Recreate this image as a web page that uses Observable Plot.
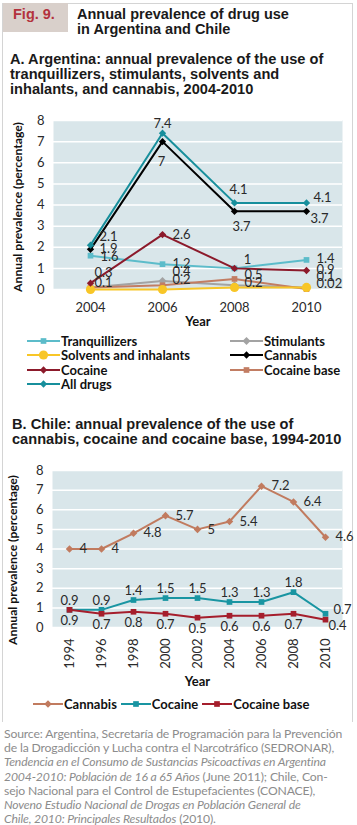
<!DOCTYPE html>
<html><head><meta charset="utf-8">
<script src="https://cdn.jsdelivr.net/npm/d3@7"></script>
<script src="https://cdn.jsdelivr.net/npm/@observablehq/plot@0.6"></script>
<style>
html,body{margin:0;padding:0;background:#fff;}
body{width:357px;height:825px;position:relative;overflow:hidden;font-family:Lato,"Open Sans",sans-serif;color:#222;}
.abs{position:absolute;}
#panel{left:2px;top:3px;width:349px;height:718px;border:1px solid #d4d4d4;border-bottom:none;}
#figbox{left:3px;top:3px;width:65px;height:29px;background:#d9d0cb;}
#figlab{left:13px;top:6px;font:bold 14.5px "Liberation Sans",Arial,sans-serif;color:#b3323d;}
#title{left:77px;top:7px;font:bold 14.5px/15px "Liberation Sans",Arial,sans-serif;color:#1a1a1a;}
.sec{font:bold 14.6px/14.8px "Liberation Sans",Arial,sans-serif;color:#1a1a1a;white-space:nowrap;}
.leg{font:bold 13px Lato,sans-serif;color:#111;white-space:nowrap;display:flex;align-items:center;height:14px;}
.leg svg{margin-right:1px;}
#source{left:4px;top:727px;font:12.2px/14.2px Lato,sans-serif;color:#8c8c8c;white-space:nowrap;letter-spacing:-0.15px;}
</style></head>
<body>
<div id="panel" class="abs"></div>
<div id="figbox" class="abs"></div>
<div id="figlab" class="abs">Fig. 9.</div>
<div id="title" class="abs">Annual prevalence of drug use<br>in Argentina and Chile</div>
<div class="abs sec" style="left:10px;top:52px;">A. Argentina: annual prevalence of the use of<br>tranquillizers, stimulants, solvents and<br>inhalants, and cannabis, 2004-2010</div>
<div id="chartA" class="abs" style="left:0;top:100px;"></div>
<div id="legendA"></div>
<div class="abs sec" style="left:12px;top:417px;">B. Chile: annual prevalence of the use of<br>cannabis, cocaine and cocaine base, 1994-2010</div>
<div id="chartB" class="abs" style="left:0;top:455px;"></div>
<div id="legendB"></div>
<div id="source" class="abs">Source: Argentina, Secretaría de Programación para la Prevención<br>de la Drogadicción y Lucha contra el Narcotráfico (SEDRONAR),<br><i>Tendencia en el Consumo de Sustancias Psicoactivas en Argentina</i><br><i>2004-2010: Población de 16 a 65 Años</i> (June 2011); Chile, Con-<br>sejo Nacional para el Control de Estupefacientes (CONACE),<br><i>Noveno Estudio Nacional de Drogas en Población General de</i><br><i>Chile, 2010: Principales Resultados</i> (2010).</div>
<script>
// ---------- DATA ----------
const yearsA = ["2004", "2006", "2008", "2010"];
const seriesNamesA = ["Tranquillizers", "Stimulants", "Solvents and inhalants", "Cannabis", "Cocaine", "Cocaine base", "All drugs"];
const tranquillizersA = [1.6, 1.2, 1, 1.4];
const stimulantsA = [0.1, 0.4, 0.2, 0.1];
const solventsA = [0, 0, 0.1, 0.1];
const cannabisA = [1.9, 7, 3.7, 3.7];
const cocaineA = [0.3, 2.6, 1, 0.9];
const cocaineBaseA = [0.1, 0.2, 0.5, 0.02];
const allDrugsA = [2.1, 7.4, 4.1, 4.1];
const yTicks = [0, 1, 2, 3, 4, 5, 6, 7, 8];

const yearsB = ["1994", "1996", "1998", "2000", "2002", "2004", "2006", "2008", "2010"];
const seriesNamesB = ["Cannabis", "Cocaine", "Cocaine base"];
const cannabisB = [4, 4, 4.8, 5.7, 5, 5.4, 7.2, 6.4, 4.6];
const cocaineB = [0.9, 0.9, 1.4, 1.5, 1.5, 1.3, 1.3, 1.8, 0.7];
const cocaineBaseB = [0.9, 0.7, 0.8, 0.7, 0.5, 0.6, 0.6, 0.7, 0.4];

const valuesA = {
  "Tranquillizers": tranquillizersA, "Stimulants": stimulantsA, "Solvents and inhalants": solventsA,
  "Cannabis": cannabisA, "Cocaine": cocaineA, "Cocaine base": cocaineBaseA, "All drugs": allDrugsA
};
const valuesB = {"Cannabis": cannabisB, "Cocaine": cocaineB, "Cocaine base": cocaineBaseB};

// ---------- STYLE ----------
const styleA = {
  "Tranquillizers": {color: "#5cbcca", symbol: "square", r: 3.2},
  "Stimulants": {color: "#a3a3a3", symbol: "diamond2", r: 3.6},
  "Solvents and inhalants": {color: "#f8c627", symbol: "circle", r: 4.6},
  "Cannabis": {color: "#000000", symbol: "diamond2", r: 3.3},
  "Cocaine": {color: "#8c1a2b", symbol: "diamond2", r: 3.3},
  "Cocaine base": {color: "#c27d63", symbol: "square", r: 3.2},
  "All drugs": {color: "#178f9c", symbol: "diamond2", r: 3.3}
};
const drawOrderA = ["Tranquillizers", "Stimulants", "Cocaine base", "Solvents and inhalants", "Cocaine", "Cannabis", "All drugs"];
const labelPosA = {
  "Tranquillizers": [[10, 1, "start"], [10, 0, "start"], [13, -9, "middle"], [10, -1, "start"]],
  "Stimulants": [[4, -5, "start"], [10, -9, "start"], [10, -2, "start"], [10, -11, "start"]],
  "Solvents and inhalants": [null, null, null, null],
  "Cannabis": [[9, -1, "start"], [-1, 20, "middle"], [7, 15, "middle"], [4, 7, "start"]],
  "Cocaine": [[4, -10, "start"], [10, 0, "start"], null, [10, -1, "start"]],
  "Cocaine base": [null, [10, -5, "start"], [10, -4, "start"], [10, -5, "start"]],
  "All drugs": [[9, -8, "start"], [0, -9, "middle"], [4, -13, "middle"], [7, -5, "start"]]
};
const styleB = {
  "Cannabis": {color: "#c17b5f", symbol: "diamond2", r: 3.4},
  "Cocaine": {color: "#1995a2", symbol: "square", r: 3.2},
  "Cocaine base": {color: "#a51e2c", symbol: "square", r: 3.2}
};
const labelPosB = {
  "Cannabis": yearsB.map(() => [10, 0, "start"]),
  "Cocaine": yearsB.map((y, i) => i === yearsB.length - 1 ? [8, -4, "start"] : [0, -9, "middle"]),
  "Cocaine base": yearsB.map((y, i) => i === yearsB.length - 1 ? [3, 6, "start"] : [0, 11, "middle"])
};

// ---------- BUILD ----------
function rowsFor(years, values, names, labelPos) {
  const rows = [];
  for (const s of names) values[s].forEach((v, i) => rows.push({series: s, year: years[i], value: v, lab: labelPos[s][i]}));
  return rows;
}
function seriesMarks(rows, order, style) {
  const marks = [];
  for (const s of order) {
    const d = rows.filter(r => r.series === s);
    marks.push(Plot.line(d, {x: "year", y: "value", stroke: style[s].color, strokeWidth: 2}));
    marks.push(Plot.dot(d, {x: "year", y: "value", fill: style[s].color, stroke: "none", symbol: style[s].symbol, r: style[s].r}));
  }
  return marks;
}
function labelMarks(rows) {
  const groups = d3.group(rows.filter(r => r.lab), r => r.lab.join("|"));
  return Array.from(groups, ([k, arr]) => {
    const [dx, dy, anchor] = arr[0].lab;
    return Plot.text(arr, {x: "year", y: "value", text: d => String(d.value), dx, dy, textAnchor: anchor, fill: "#2a2a2a", fontSize: 13});
  });
}
const baseStyle = {fontFamily: "Lato, sans-serif", fontSize: "13px", color: "#2a2a2a", background: "transparent", overflow: "visible"};

const rowsA = rowsFor(yearsA, valuesA, seriesNamesA, labelPosA);
const chartA = Plot.plot({
  width: 357, height: 230,
  marginTop: 20, marginBottom: 41, marginLeft: 53, marginRight: 15,
  style: baseStyle,
  x: {type: "point", domain: yearsA, padding: 0.5},
  y: {domain: [0, 8]},
  marks: [
    Plot.frame({fill: "#d9e6ea", stroke: "none"}),
    Plot.gridY(yTicks, {stroke: "#ffffff", strokeOpacity: 1, strokeWidth: 1.5}),
    Plot.axisY(yTicks, {tickSize: 0, tickPadding: 9, label: null, fontSize: 13}),
    Plot.axisX(yearsA, {tickSize: 0, tickPadding: 13, label: null, fontSize: 13}),
    Plot.text(["Year"], {frameAnchor: "bottom", dy: 32, textAnchor: "middle", lineAnchor: "middle", fontWeight: "bold", fontSize: 13, fill: "#111"}),
    Plot.text(["Annual prevalence (percentage)"], {frameAnchor: "left", dx: -35, dy: 2, rotate: -90, textAnchor: "middle", lineAnchor: "middle", fontWeight: "bold", fontSize: 12.2, fill: "#111"}),
    ...seriesMarks(rowsA, drawOrderA, styleA),
    ...labelMarks(rowsA)
  ]
});
document.getElementById("chartA").append(chartA);

const rowsB = rowsFor(yearsB, valuesB, seriesNamesB, labelPosB);
const chartB = Plot.plot({
  width: 357, height: 240,
  marginTop: 15, marginBottom: 68, marginLeft: 52, marginRight: 15,
  style: baseStyle,
  x: {type: "point", domain: yearsB, padding: 0.5},
  y: {domain: [0, 8]},
  marks: [
    Plot.frame({fill: "#d9e6ea", stroke: "none"}),
    Plot.gridY(yTicks, {stroke: "#ffffff", strokeOpacity: 1, strokeWidth: 1.5}),
    Plot.axisY(yTicks, {tickSize: 0, tickPadding: 9, label: null, fontSize: 13}),
    Plot.axisX(yearsB, {tickSize: 0, tickPadding: 11, tickRotate: -90, label: null, fontSize: 13}),
    Plot.text(["Year"], {frameAnchor: "bottom", dy: 54, textAnchor: "middle", lineAnchor: "middle", fontWeight: "bold", fontSize: 13, fill: "#111"}),
    Plot.text(["Annual prevalence (percentage)"], {frameAnchor: "left", dx: -39, dy: 11, rotate: -90, textAnchor: "middle", lineAnchor: "middle", fontWeight: "bold", fontSize: 12.2, fill: "#111"}),
    ...seriesMarks(rowsB, seriesNamesB, styleB),
    ...labelMarks(rowsB)
  ]
});
document.getElementById("chartB").append(chartB);

// ---------- LEGENDS ----------
function swatch(st, w) {
  const sym = st.symbol === "circle" ? d3.symbolCircle : st.symbol === "square" ? d3.symbolSquare : d3.symbolDiamond2;
  const path = d3.symbol(sym, Math.PI * st.r * st.r)();
  return `<svg width="${w}" height="14"><line x1="0" x2="${w}" y1="7" y2="7" stroke="${st.color}" stroke-width="2"/><path transform="translate(${w / 2},7)" d="${path}" fill="${st.color}"/></svg>`;
}
const legA = document.getElementById("legendA");
const legPosA = [[27, 334], [230, 334], [27, 348], [230, 348], [27, 363], [230, 363], [27, 377]];
seriesNamesA.forEach((s, i) => {
  const div = document.createElement("div");
  div.className = "abs leg";
  div.style.left = legPosA[i][0] + "px";
  div.style.top = legPosA[i][1] + "px";
  div.innerHTML = swatch(styleA[s], 33) + s;
  legA.append(div);
});
const legB = document.getElementById("legendB");
const row = document.createElement("div");
row.className = "abs leg";
row.style.left = "33px"; row.style.top = "697px";
row.innerHTML = seriesNamesB.map((s, i) => `<span style="display:flex;align-items:center;margin-right:${i < 2 ? 4 : 0}px">${swatch(styleB[s], 30)}${s}</span>`).join("");
legB.append(row);
</script>
</body></html>
